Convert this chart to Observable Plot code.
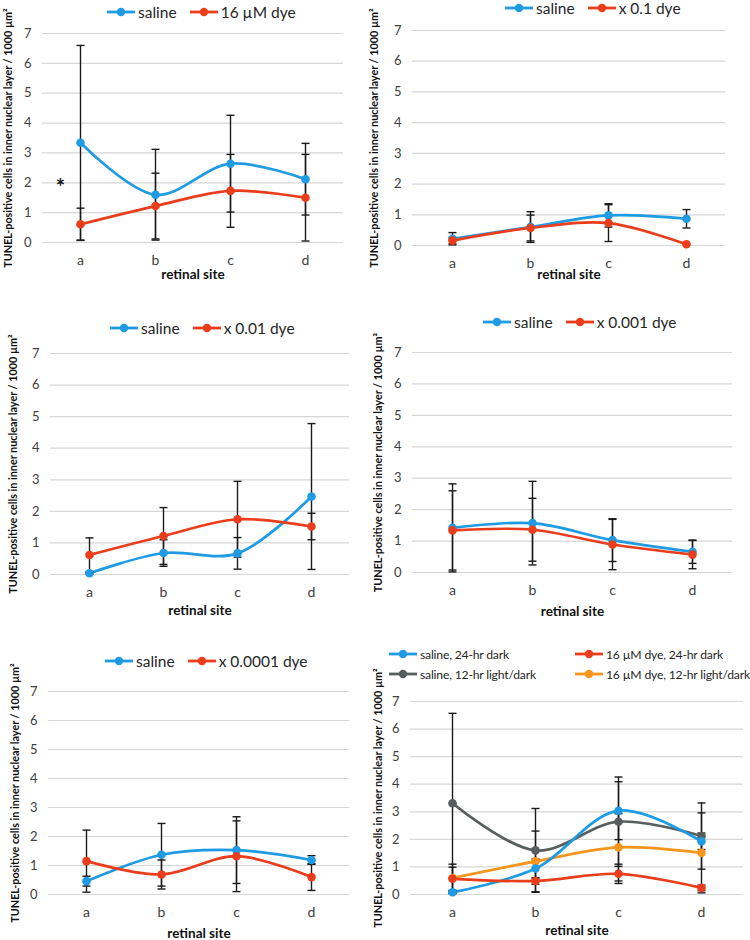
<!DOCTYPE html>
<html>
<head>
<meta charset="utf-8">
<script src="https://cdn.jsdelivr.net/npm/d3@7"></script>
<script src="https://cdn.jsdelivr.net/npm/@observablehq/plot@0.6"></script>
<style>
  body { margin: 0; background: #fff; font-family: Lato, "Open Sans", sans-serif; }
  #root { position: relative; width: 750px; height: 940px; overflow: hidden; background: #fff; }
  .panel { position: absolute; }
  .panel svg { overflow: visible; }
  .legend { position: absolute; height: 20px; display: flex; align-items: center; white-space: nowrap; color: #262626; font-size: 15.5px; }
  .legend .item { display: flex; align-items: center; margin-right: 12px; }
  .legend .item svg { display: block; margin-right: 2px; }
</style>
</head>
<body>
<div id="root"></div>
<script>
// ---------- shared categories / ticks / labels ----------
const sites = ["a", "b", "c", "d"];
const yTicks = [0, 1, 2, 3, 4, 5, 6, 7];
const yLabel = "TUNEL-positive cells in inner nuclear layer / 1000 µm²";
const xLabel = "retinal site";

// ---------- panel 1: saline vs 16 µM dye ----------
const p1Names = ["saline", "16 µM dye"];
const p1Saline = [3.34, 1.60, 2.64, 2.12];
const p1SalineErr = [3.26, 1.52, 1.62, 1.20];
const p1Dye = [0.61, 1.22, 1.73, 1.50];
const p1DyeErr = [0.54, 1.10, 1.22, 1.45];
const p1Star = [{ site: "a", value: 2.0, text: "*" }];

// ---------- panel 2: saline vs x 0.1 dye ----------
const p2Names = ["saline", "x 0.1 dye"];
const p2Saline = [0.22, 0.60, 0.98, 0.87];
const p2SalineErr = [0.20, 0.50, 0.38, 0.30];
const p2Dye = [0.16, 0.57, 0.73, 0.04];
const p2DyeErr = [0.10, 0.42, 0.60, 0.00];

// ---------- panel 3: saline vs x 0.01 dye ----------
const p3Names = ["saline", "x 0.01 dye"];
const p3Saline = [0.04, 0.68, 0.67, 2.47];
const p3SalineErr = [0.03, 0.42, 0.50, 2.31];
const p3Dye = [0.62, 1.22, 1.75, 1.52];
const p3DyeErr = [0.54, 0.90, 1.20, 0.42];

// ---------- panel 4: saline vs x 0.001 dye ----------
const p4Names = ["saline", "x 0.001 dye"];
const p4Saline = [1.42, 1.57, 1.03, 0.66];
const p4SalineErr = [1.40, 1.33, 0.68, 0.37];
const p4Dye = [1.34, 1.36, 0.89, 0.57];
const p4DyeErr = [1.26, 1.00, 0.80, 0.45];

// ---------- panel 5: saline vs x 0.0001 dye ----------
const p5Names = ["saline", "x 0.0001 dye"];
const p5Saline = [0.46, 1.37, 1.53, 1.19];
const p5SalineErr = [0.17, 1.08, 1.15, 0.15];
const p5Dye = [1.15, 0.69, 1.32, 0.60];
const p5DyeErr = [1.07, 0.50, 1.22, 0.46];

// ---------- panel 6: light conditions ----------
const p6Names = ["saline, 24-hr dark", "16 µM dye, 24-hr dark", "saline, 12-hr light/dark", "16 µM dye, 12-hr light/dark"];
const p6Saline24 = [0.08, 0.94, 3.04, 1.93];
const p6Saline24Err = [0.05, 0.35, 1.05, 0.30];
const p6Dye24 = [0.57, 0.49, 0.75, 0.24];
const p6Dye24Err = [0.42, 0.12, 0.35, 0.10];
const p6Saline12 = [3.31, 1.60, 2.64, 2.12];
const p6Saline12Err = [3.26, 1.52, 1.62, 1.20];
const p6Dye12 = [0.60, 1.20, 1.71, 1.51];
const p6Dye12Err = [0.50, 1.10, 1.22, 1.45];

// ---------- colours ----------
const BLUE = "#1e9be3", RED = "#ea3d1c", GRAY = "#585e5e", ORANGE = "#f7951c";

const capSymbol = { draw(ctx) { ctx.moveTo(-4, 0); ctx.lineTo(4, 0); } };

const root = document.getElementById("root");

function swatch(color) {
  const ns = "http://www.w3.org/2000/svg";
  const s = document.createElementNS(ns, "svg");
  s.setAttribute("width", 30); s.setAttribute("height", 10);
  const l = document.createElementNS(ns, "line");
  l.setAttribute("x1", 1); l.setAttribute("x2", 29); l.setAttribute("y1", 5); l.setAttribute("y2", 5);
  l.setAttribute("stroke", color); l.setAttribute("stroke-width", 2.8);
  const c = document.createElementNS(ns, "circle");
  c.setAttribute("cx", 15); c.setAttribute("cy", 5); c.setAttribute("r", 4.2); c.setAttribute("fill", color);
  s.appendChild(l); s.appendChild(c);
  return s;
}

function legend(items, left, cy, opts = {}) {
  const div = document.createElement("div");
  div.className = "legend";
  div.style.left = left + "px";
  div.style.top = (cy - 10) + "px";
  if (opts.fontSize) div.style.fontSize = opts.fontSize + "px";
  if (opts.letterSpacing) div.style.letterSpacing = opts.letterSpacing + "px";
  items.forEach((it) => {
    const item = document.createElement("div");
    item.className = "item";
    if (opts.width) { item.style.width = opts.width + "px"; item.style.marginRight = "0"; }
    item.appendChild(swatch(it.color));
    const t = document.createElement("span");
    t.textContent = it.name;
    item.appendChild(t);
    div.appendChild(item);
  });
  root.appendChild(div);
}

function panel(cfg) {
  const data = [];
  cfg.series.forEach(s => sites.forEach((site, i) =>
    data.push({ series: s.name, site, value: s.values[i], err: s.errs[i] })));
  const bars = data.filter(d => d.err > 0);
  const plot = Plot.plot({
    width: cfg.width, height: cfg.height,
    marginLeft: cfg.ml, marginRight: cfg.mr, marginTop: cfg.mt, marginBottom: cfg.mb,
    style: { fontFamily: "Lato, 'Open Sans', sans-serif", background: "transparent", overflow: "visible" },
    x: { type: "point", domain: sites, padding: 0.5, label: null },
    y: { domain: [0, 7], label: null },
    color: { domain: cfg.series.map(s => s.name), range: cfg.series.map(s => s.color) },
    marks: [
      Plot.ruleY(yTicks, { stroke: "#d6d6d6", strokeWidth: 1.2 }),
      Plot.axisY(yTicks, { tickSize: 0, tickPadding: 11, fontSize: 13, fill: "#404040", label: null }),
      Plot.axisX(sites, { tickSize: 0, tickPadding: 13, fontSize: 14, fill: "#404040", label: null }),
      Plot.text([yLabel], { text: d => d, frameAnchor: "left", textAnchor: "middle", rotate: -90, dx: -cfg.yOff, fontWeight: "bold", fontSize: 10.8, fill: "#111" }),
      Plot.text([xLabel], { text: d => d, frameAnchor: "bottom", dy: cfg.xOff, fontWeight: "bold", fontSize: 13.5, fill: "#111" }),
      Plot.line(data, { x: "site", y: "value", z: "series", stroke: "series", curve: "catmull-rom", strokeWidth: 2.7 }),
      Plot.ruleX(bars, { x: "site", y1: d => d.value - d.err, y2: d => d.value + d.err, stroke: "#1a1a1a", strokeWidth: 1.4 }),
      Plot.dot(bars, { x: "site", y: d => d.value - d.err, symbol: capSymbol, stroke: "#1a1a1a", strokeWidth: 1.4, fill: "none" }),
      Plot.dot(bars, { x: "site", y: d => d.value + d.err, symbol: capSymbol, stroke: "#1a1a1a", strokeWidth: 1.4, fill: "none" }),
      Plot.dot(data, { x: "site", y: "value", fill: "series", r: 4.3 }),
      ...(cfg.extra || [])
    ]
  });
  const div = document.createElement("div");
  div.className = "panel";
  div.style.left = cfg.left + "px";
  div.style.top = cfg.top + "px";
  div.appendChild(plot);
  root.appendChild(div);
}

function two(names, s, se, d, de) {
  return [
    { name: names[0], color: BLUE, values: s, errs: se },
    { name: names[1], color: RED, values: d, errs: de }
  ];
}

// panel 1
panel({ left: 0, top: 20, width: 365, height: 268, ml: 42, mr: 22, mt: 13, mb: 46, yOff: 34, xOff: 36,
  series: two(p1Names, p1Saline, p1SalineErr, p1Dye, p1DyeErr),
  extra: [Plot.text(p1Star, { x: "site", y: "value", text: "text", dx: -20, dy: 5, fontSize: 22, fontWeight: "bold", fill: "#111" })] });
legend([{ name: p1Names[0], color: BLUE }, { name: p1Names[1], color: RED }], 106, 12);

// panel 2
panel({ left: 365, top: 20, width: 385, height: 268, ml: 47, mr: 25, mt: 10, mb: 43, yOff: 38, xOff: 33,
  series: two(p2Names, p2Saline, p2SalineErr, p2Dye, p2DyeErr) });
legend([{ name: p2Names[0], color: BLUE }, { name: p2Names[1], color: RED }], 504, 8);

// panel 3
panel({ left: 0, top: 340, width: 365, height: 280, ml: 50, mr: 16, mt: 13, mb: 46, yOff: 37, xOff: 40,
  series: two(p3Names, p3Saline, p3SalineErr, p3Dye, p3DyeErr) });
legend([{ name: p3Names[0], color: BLUE }, { name: p3Names[1], color: RED }], 109, 328);

// panel 4
panel({ left: 365, top: 340, width: 385, height: 280, ml: 47, mr: 18, mt: 12, mb: 48, yOff: 34, xOff: 43,
  series: two(p4Names, p4Saline, p4SalineErr, p4Dye, p4DyeErr) });
legend([{ name: p4Names[0], color: BLUE }, { name: p4Names[1], color: RED }], 482, 322);

// panel 5
panel({ left: 0, top: 680, width: 365, height: 260, ml: 48, mr: 16, mt: 11, mb: 46, yOff: 33, xOff: 43,
  series: two(p5Names, p5Saline, p5SalineErr, p5Dye, p5DyeErr) });
legend([{ name: p5Names[0], color: BLUE }, { name: p5Names[1], color: RED }], 104, 661);

// panel 6
panel({ left: 365, top: 690, width: 385, height: 250, ml: 45, mr: 7, mt: 11, mb: 46, yOff: 32, xOff: 40,
  series: [
    { name: p6Names[2], color: GRAY, values: p6Saline12, errs: p6Saline12Err },
    { name: p6Names[3], color: ORANGE, values: p6Dye12, errs: p6Dye12Err },
    { name: p6Names[0], color: BLUE, values: p6Saline24, errs: p6Saline24Err },
    { name: p6Names[1], color: RED, values: p6Dye24, errs: p6Dye24Err }
  ] });
legend([{ name: p6Names[0], color: BLUE }, { name: p6Names[1], color: RED }], 388, 654, { fontSize: 12.2, width: 186, letterSpacing: -0.2 });
legend([{ name: p6Names[2], color: GRAY }, { name: p6Names[3], color: ORANGE }], 388, 674, { fontSize: 12.2, width: 186, letterSpacing: -0.2 });
</script>
</body>
</html>
